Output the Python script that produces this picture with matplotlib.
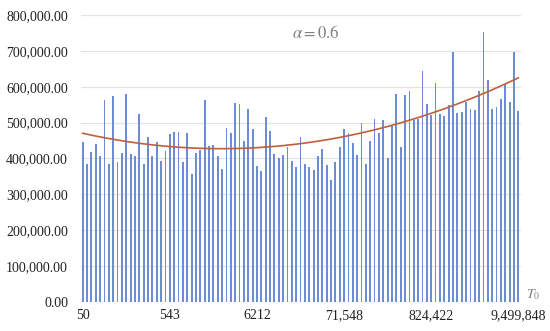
import numpy as np
import matplotlib.pyplot as plt
from matplotlib.ticker import FuncFormatter

plt.rcParams["font.family"] = "Liberation Serif"
plt.rcParams["mathtext.fontset"] = "stix"

# T0 categories (only every 20th is labelled)
tick_pos = [0, 20, 40, 60, 80, 100]
tick_labels = ["50", "543", "6212", "71,548", "824,422", "9,499,848"]

# bar heights, in thousands
values_k = [
    445, 385, 417, 440, 408, 564, 386, 574, 389, 416,
    580, 413, 407, 523, 386, 460, 408, 446, 394, 420,
    468, 473, 473, 389, 472, 357, 416, 425, 563, 435,
    439, 407, 370, 485, 470, 555, 552, 450, 538, 481,
    380, 365, 517, 476, 413, 400, 410, 433, 394, 376,
    461, 385, 376, 369, 406, 427, 382, 339, 391, 431,
    483, 470, 444, 411, 499, 385, 450, 511, 471, 506,
    401, 490, 580, 432, 578, 588, 507, 510, 645, 552,
    522, 610, 525, 518, 549, 696, 526, 531, 558, 538,
    534, 587, 752, 618, 538, 544, 566, 608, 557, 696,
    532,
]
values = np.array(values_k) * 1000.0
x = np.arange(len(values))

# polynomial trendline like excel
coef = np.polyfit(x, values, 2)
xs = np.linspace(0, len(values) - 1, 300)
trend = np.polyval(coef, xs)

fig = plt.figure(figsize=(5.5, 3.31), dpi=100)
ax = fig.add_axes([0.1464, 0.0876, 0.80, 0.8671])

ax.bar(x, values, width=0.42, color="#6C8CD5", zorder=2)
ax.plot(xs, trend, color="#BF5F3C", lw=1.2, zorder=3)

ax.set_xlim(-0.5, len(values) - 0.5)
ax.set_ylim(0, 800000)
ax.set_yticks(np.arange(0, 800001, 100000))
ax.yaxis.set_major_formatter(FuncFormatter(lambda v, p: f"{v:,.2f}"))
ax.set_xticks(tick_pos)
ax.set_xticklabels(tick_labels)
ax.tick_params(axis="both", length=0, labelsize=10, colors="#222222")
ax.tick_params(axis="y", pad=9)
ax.tick_params(axis="x", pad=5)

ax.grid(axis="y", color="#E3E3E3", lw=0.9, zorder=0)
for s in ax.spines.values():
    s.set_visible(False)

ax.text(53.5, 748000, r"$\alpha = 0.6$", color="#7F7F7F", fontsize=12,
        ha="center", va="center")
ax.text(103.5, 20000, r"$T_0$", color="#7F7F7F", fontsize=10,
        ha="center", va="center", clip_on=False)

fig.savefig("out.png", dpi=100)
